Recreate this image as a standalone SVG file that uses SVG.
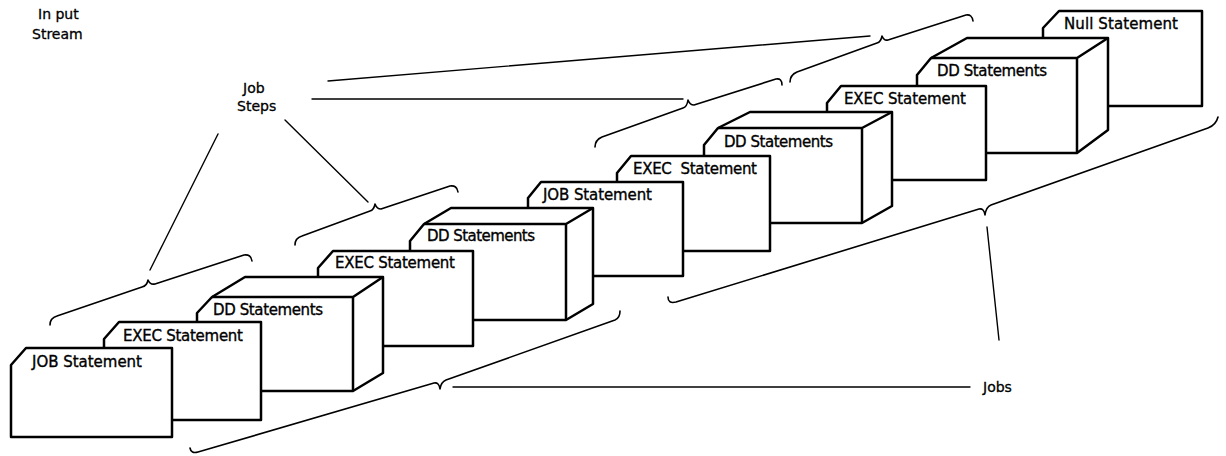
<svg xmlns="http://www.w3.org/2000/svg" width="1226" height="456" viewBox="0 0 1226 456">
<style>
.card{fill:#fff;stroke:#000;stroke-width:2.5;stroke-linejoin:round}
.edge{fill:none;stroke:#000;stroke-width:2.5;stroke-linejoin:round}
.lbl{font-family:"DejaVu Sans",sans-serif;font-size:15px;fill:#000;stroke:#000;stroke-width:0.35}
.cap{font-family:"DejaVu Sans",sans-serif;font-size:14px;fill:#000;stroke:#000;stroke-width:0.3}
.brace{fill:none;stroke:#000;stroke-width:1.6;stroke-linecap:round;stroke-linejoin:round}
.lead{fill:none;stroke:#000;stroke-width:1.4;stroke-linecap:round}
</style>
<rect width="1226" height="456" fill="#fff"/>
<text class="cap" x="38" y="19">In put</text>
<text class="cap" x="32" y="39">Stream</text>
<text class="cap" x="243" y="93">Job</text>
<text class="cap" x="237" y="111">Steps</text>
<text class="cap" x="983" y="392">Jobs</text>

<g id="null-statement">
<path class="card" d="M1043,28 L1059,11 L1202,11 L1202,106 L1043,106 Z"/>
<text class="lbl" x="1064" y="29" textLength="114">Null Statement</text>
</g>
<g id="dd-statements-4">
<path class="card" d="M917,75 L931,58 L967,38 L1108,38 L1108,130 L1077,153 L917,153 Z"/>
<path class="edge" d="M931,58 L1077,58 L1077,153 M1077,58 L1108,38"/>
<text class="lbl" x="937" y="76" textLength="110">DD Statements</text>
</g>
<g id="exec-statement-4">
<path class="card" d="M827,103 L841,86 L986,86 L986,180 L827,180 Z"/>
<text class="lbl" x="844" y="104" textLength="122">EXEC Statement</text>
</g>
<g id="dd-statements-3">
<path class="card" d="M704,145 L718,128 L750,112 L892,112 L892,206 L862,223 L704,223 Z"/>
<path class="edge" d="M718,128 L862,128 L862,223 M862,128 L892,112"/>
<text class="lbl" x="724" y="147" textLength="109">DD Statements</text>
</g>
<g id="exec-statement-3">
<path class="card" d="M617,173 L631,156 L770,156 L770,251 L617,251 Z"/>
<text class="lbl" x="633" y="174" textLength="124" xml:space="preserve">EXEC  Statement</text>
</g>
<g id="job-statement-2">
<path class="card" d="M528,198 L541,182 L683,182 L683,276 L528,276 Z"/>
<text class="lbl" x="543" y="200" textLength="109">JOB Statement</text>
</g>
<g id="dd-statements-2">
<path class="card" d="M410,241 L424,224 L451,208 L593,208 L593,304 L566,320 L410,320 Z"/>
<path class="edge" d="M424,224 L566,224 L566,320 M566,224 L593,208"/>
<text class="lbl" x="427" y="241" textLength="108">DD Statements</text>
</g>
<g id="exec-statement-2">
<path class="card" d="M318,268 L333,251 L473,251 L473,346 L318,346 Z"/>
<text class="lbl" x="335" y="268" textLength="120">EXEC Statement</text>
</g>
<g id="dd-statements-1">
<path class="card" d="M197,313 L212,297 L245,277 L383,277 L383,373 L353,391 L197,391 Z"/>
<path class="edge" d="M212,297 L353,297 L353,391 M353,297 L383,277"/>
<text class="lbl" x="213" y="315" textLength="110">DD Statements</text>
</g>
<g id="exec-statement-1">
<path class="card" d="M104,339 L119,322 L261,322 L261,420 L104,420 Z"/>
<text class="lbl" x="123" y="341" textLength="120">EXEC Statement</text>
</g>
<g id="job-statement-1">
<path class="card" d="M11,365 L26,348 L172,348 L172,437 L11,437 Z"/>
<text class="lbl" x="32" y="367" textLength="110">JOB Statement</text>
</g>

<g id="connectors">
<path class="brace" d="M50,325 Q50,318 57,316 L142,287 Q147,286 148,280 Q150,285 155,284 L244,255 Q251,254 252,261"/>
<path class="brace" d="M295,245 Q295,238 302,236 L370,211 Q374,210 375,204 Q377,209 381,209 L450,186 Q457,185 458,192"/>
<path class="brace" d="M595,147 Q595,140 602,137 L683,108 Q687,107 688,100 Q690,105 694,105 L776,79 Q782,78 782,85"/>
<path class="brace" d="M790,82 Q790,75 797,72 L877,43 Q881,42 882,36 Q884,41 888,40 L966,15 Q972,14 973,21"/>
<path class="brace" d="M190,448 Q191,454 198,452 L434,383 Q439,382 440,389 Q441,382 446,380 L615,320 Q620,318 620,311"/>
<path class="brace" d="M668,297 Q668,304 676,302 L979,209 Q984,208 985,215 Q986,207 991,205 L1208,128 Q1216,125 1218,117"/>
<path class="lead" d="M150,270 L218,134"/>
<path class="lead" d="M368,202 L285,120"/>
<path class="lead" d="M328,81 L870,36"/>
<path class="lead" d="M312,99 L683,99"/>
<path class="lead" d="M453,387 L970,387"/>
<path class="lead" d="M987,227 L999,340"/>
</g>
</svg>
